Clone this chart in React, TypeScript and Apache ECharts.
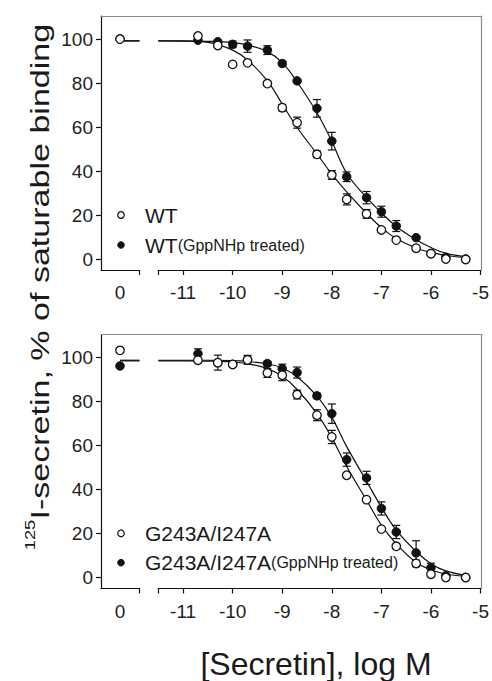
import React, { useEffect, useRef } from 'react';
import * as echarts from 'echarts';

// ---- data ----
const doses = [-10.7, -10.3, -10, -9.7, -9.3, -9, -8.7, -8.3, -8, -7.7, -7.3, -7, -6.7, -6.3, -6, -5.7, -5.3];
const curveX = [-11.5, -11, -10.5, -10, -9.7, -9.3, -9, -8.7, -8.3, -8, -7.7, -7.3, -7, -6.7, -6.3, -6, -5.7, -5.25];

// top panel: WT
const wtZero = 100;
const wtGppZero = 100;
const wtValues = [101.4, 97.1, 88.5, 89.2, 79.8, 68.8, 62.0, 47.6, 38.2, 27.1, 20.5, 13.2, 8.6, 4.9, 2.4, 0.0, -0.2];
const wtErr = [0, 0, 0, 0, 0, 1.5, 2.5, 1.5, 2, 2.5, 2, 1, 0, 0, 0, 0, 0];
const wtGppValues = [99.5, 98.8, 97.6, 96.8, 95.0, 88.9, 81.0, 68.5, 53.6, 37.4, 27.9, 21.5, 15.0, 9.7, 2.5, 0.8, 0.0];
const wtGppErr = [0, 0, 1.5, 2.8, 2, 1, 0.5, 4, 4, 2.2, 2.8, 2.5, 2.5, 0.5, 0, 0, 0];
const wtCurve = [99.2, 99.1, 98.5, 95.0, 90.5, 81.0, 70.5, 59.8, 47.8, 38.6, 30.5, 20.8, 14.3, 9.3, 5.0, 3.0, 1.6, 0.6];
const wtGppCurve = [99.2, 99.2, 99.0, 98.4, 97.3, 94.3, 89.3, 80.5, 66.5, 53.5, 39.0, 28.0, 21.0, 14.8, 8.8, 5.2, 2.6, 1.0];

// bottom panel: G243A/I247A
const g2Zero = 103.3;
const g2GppZero = 96.2;
const g2Values = [98.8, 97.7, 96.9, 99.0, 93.0, 92.0, 83.2, 73.8, 63.9, 46.5, 35.4, 22.0, 14.2, 6.4, 1.5, 0.0, 0.0];
const g2Err = [0, 3.4, 0, 2, 2, 2.5, 2, 2.5, 3, 0, 0, 0, 0, 1.5, 0, 0, 0];
const g2GppValues = [101.8, 97.7, 96.9, 99.0, 97.3, 95.0, 93.2, 82.6, 74.5, 53.6, 45.3, 31.4, 20.7, 11.2, 4.5, 0.8, 0.0];
const g2GppErr = [2.2, 0, 0, 0, 1, 2, 2.5, 1.2, 4.4, 3, 3, 3, 3, 5.5, 2, 0, 0];
const g2Curve = [98.5, 98.5, 98.4, 98.0, 97.2, 95.0, 91.5, 85.5, 74.5, 63.5, 50.5, 35.2, 23.8, 15.3, 6.8, 3.5, 1.6, 0.4];
const g2GppCurve = [98.8, 98.8, 98.8, 98.6, 98.2, 97.2, 95.3, 91.3, 82.5, 72.8, 59.5, 43.8, 32.0, 21.5, 11.8, 6.3, 3.0, 0.8];

const yTicks = [0, 20, 40, 60, 80, 100];
const xTicks = [-11, -10, -9, -8, -7, -6, -5];
const zeroTick = [0];

const FONT = '"Liberation Sans", Arial, Helvetica, sans-serif';
const INK = '#1a1a1a';

function buildPanel(p: number, top: number, cfg: any) {
  const gi = p * 3;
  const yi = p * 4;
  const H = 254;
  const grids = [
    { left: 101, top, width: 380.7, height: H },
    { left: 101, top, width: 38.5, height: H },
    { left: 158.3, top, width: 323.4, height: H },
  ];
  const yRange = { min: -5, max: 110.5 };
  const blackLine = { show: true, onZero: false, lineStyle: { color: '#111', width: 1.2 } };
  const grayLine = { show: true, onZero: false, lineStyle: { color: '#8a8a8a', width: 1.2 } };
  const xAxes = [
    {
      show: true, gridIndex: gi, type: 'value', position: 'top', min: 0, max: 1,
      axisLine: grayLine,
      axisTick: { show: false }, axisLabel: { show: false }, splitLine: { show: false },
    },
    {
      show: true, gridIndex: gi + 1, type: 'value', position: 'bottom', min: -0.382, max: 0.392,
      axisLine: blackLine,
      axisTick: { show: true, length: 5, lineStyle: { color: '#111', width: 1.2 }, customValues: [0.392] },
      axisLabel: {
        show: true, fontSize: 19, color: '#222', fontFamily: FONT, margin: 13,
        customValues: zeroTick,
        formatter: (v: number) => (Math.abs(v) < 1e-9 ? '0' : ''),
      },
      splitLine: { show: false },
    },
    {
      show: true, gridIndex: gi + 2, type: 'value', position: 'bottom', min: -11.5, max: -5,
      axisLine: blackLine,
      axisTick: { show: true, length: 5, lineStyle: { color: '#111', width: 1.2 }, customValues: [-11.5, ...xTicks] },
      axisLabel: {
        show: true, fontSize: 19, color: '#222', fontFamily: FONT, margin: 13,
        customValues: xTicks,
        formatter: (v: number) => (Number.isInteger(v) ? String(v) : ''),
      },
      splitLine: { show: false },
    },
  ];
  const yAxes = [
    {
      show: true, gridIndex: gi, type: 'value', position: 'left', ...yRange,
      axisLine: blackLine,
      axisTick: { show: true, length: 5, lineStyle: { color: '#111', width: 1.2 }, customValues: yTicks },
      axisLabel: {
        show: true, fontSize: 19, color: '#222', fontFamily: FONT, margin: 8,
        customValues: yTicks,
        formatter: (v: number) => (yTicks.includes(v) ? String(v) : ''),
      },
      splitLine: { show: false },
    },
    {
      show: true, gridIndex: gi, type: 'value', position: 'right', ...yRange,
      axisLine: grayLine,
      axisTick: { show: false }, axisLabel: { show: false }, splitLine: { show: false },
    },
    { gridIndex: gi + 1, type: 'value', ...yRange, show: false },
    { gridIndex: gi + 2, type: 'value', ...yRange, show: false },
  ];

  const lineBase = {
    type: 'line', showSymbol: false, symbol: 'none', silent: true,
    lineStyle: { color: '#111', width: 1.2 }, z: 2,
  };
  const errData = (vals: number[], errs: number[]) =>
    doses.map((d, i) => [d, vals[i] - errs[i], vals[i] + errs[i]]).filter((_, i) => errs[i] > 0);

  const errSeries = (vals: number[], errs: number[]) => ({
    type: 'custom', xAxisIndex: gi + 2, yAxisIndex: yi + 3, silent: true, z: 3,
    data: errData(vals, errs),
    encode: { x: 0, y: [1, 2] },
    renderItem: (params: any, api: any) => {
      const x = api.value(0);
      const lo = api.coord([x, api.value(1)]);
      const hi = api.coord([x, api.value(2)]);
      const w = 4;
      const st = { stroke: '#111', lineWidth: 1.2 };
      return {
        type: 'group',
        children: [
          { type: 'line', shape: { x1: lo[0], y1: lo[1], x2: hi[0], y2: hi[1] }, style: st },
          { type: 'line', shape: { x1: hi[0] - w, y1: hi[1], x2: hi[0] + w, y2: hi[1] }, style: st },
          { type: 'line', shape: { x1: lo[0] - w, y1: lo[1], x2: lo[0] + w, y2: lo[1] }, style: st },
        ],
      };
    },
  });

  const openStyle = { color: '#ffffff', borderColor: '#111', borderWidth: 1.3, opacity: 1 };
  const filledStyle = { color: '#111', borderColor: '#111', borderWidth: 1, opacity: 1 };

  const series = [
    { ...lineBase, xAxisIndex: gi + 1, yAxisIndex: yi + 2, data: [[0, cfg.curve[0]], [0.392, cfg.curve[0]]] },
    { ...lineBase, xAxisIndex: gi + 1, yAxisIndex: yi + 2, data: [[0, cfg.gppCurve[0]], [0.392, cfg.gppCurve[0]]] },
    { ...lineBase, xAxisIndex: gi + 2, yAxisIndex: yi + 3, smooth: 0.4, data: curveX.map((x, i) => [x, cfg.curve[i]]) },
    { ...lineBase, xAxisIndex: gi + 2, yAxisIndex: yi + 3, smooth: 0.4, data: curveX.map((x, i) => [x, cfg.gppCurve[i]]) },
    errSeries(cfg.gppValues, cfg.gppErr),
    errSeries(cfg.values, cfg.err),
    {
      type: 'scatter', xAxisIndex: gi + 2, yAxisIndex: yi + 3, symbol: 'circle', symbolSize: 8.5, silent: true, z: 4,
      itemStyle: filledStyle, data: doses.map((d, i) => [d, cfg.gppValues[i]]),
    },
    {
      type: 'scatter', xAxisIndex: gi + 2, yAxisIndex: yi + 3, symbol: 'circle', symbolSize: 8.5, silent: true, z: 5,
      itemStyle: openStyle, data: doses.map((d, i) => [d, cfg.values[i]]),
    },
    {
      type: 'scatter', xAxisIndex: gi + 1, yAxisIndex: yi + 2, symbol: 'circle', symbolSize: 8.5, silent: true, z: 4,
      itemStyle: filledStyle, data: [[0, cfg.gppZero]],
    },
    {
      type: 'scatter', xAxisIndex: gi + 1, yAxisIndex: yi + 2, symbol: 'circle', symbolSize: 8.5, silent: true, z: 5,
      itemStyle: openStyle, data: [[0, cfg.zero]],
    },
  ];
  return { grids, xAxes, yAxes, series };
}

function legendGraphic(y1: number, y2: number, name: string) {
  return [
    { type: 'circle', shape: { cx: 121, cy: y1, r: 3.3 }, style: { fill: '#fff', stroke: '#111', lineWidth: 1.2 } },
    { type: 'circle', shape: { cx: 121, cy: y2, r: 3.3 }, style: { fill: '#111', stroke: '#111', lineWidth: 1 } },
    {
      type: 'text', x: 145, y: y1,
      style: { text: name, fontSize: 21, fontFamily: FONT, fill: INK, verticalAlign: 'middle', align: 'left' },
    },
    {
      type: 'text', x: 145, y: y2,
      style: {
        text: `{a|${name}}{b|(GppNHp treated)}`, verticalAlign: 'middle', align: 'left',
        rich: {
          a: { fontSize: 21, fontFamily: FONT, fill: INK, verticalAlign: 'middle', lineHeight: 24 },
          b: { fontSize: 16, fontFamily: FONT, fill: INK, verticalAlign: 'middle', lineHeight: 24 },
        },
      },
    },
  ];
}

function buildOption() {
  const top = buildPanel(0, 16, {
    zero: wtZero, gppZero: wtGppZero, values: wtValues, err: wtErr, gppValues: wtGppValues, gppErr: wtGppErr,
    curve: wtCurve, gppCurve: wtGppCurve,
  });
  const bottom = buildPanel(1, 334.5, {
    zero: g2Zero, gppZero: g2GppZero, values: g2Values, err: g2Err, gppValues: g2GppValues, gppErr: g2GppErr,
    curve: g2Curve, gppCurve: g2GppCurve,
  });
  return {
    animation: false,
    backgroundColor: '#fff',
    grid: [...top.grids, ...bottom.grids],
    xAxis: [...top.xAxes, ...bottom.xAxes],
    yAxis: [...top.yAxes, ...bottom.yAxes],
    series: [...top.series, ...bottom.series],
    graphic: [
      ...legendGraphic(215, 245, 'WT'),
      ...legendGraphic(533.3, 562.7, 'G243A/I247A'),
      {
        type: 'text', x: 38, y: 287, rotation: Math.PI / 2, scaleX: 1.31, scaleY: 1,
        style: {
          text: '{s|125}{m|I-secretin, % of saturable binding}', align: 'center', verticalAlign: 'middle',
          rich: {
            s: { fontSize: 14, fontFamily: FONT, fill: INK, verticalAlign: 'top', lineHeight: 30 },
            m: { fontSize: 26, fontFamily: FONT, fill: INK, verticalAlign: 'bottom', lineHeight: 30 },
          },
        },
      },
      {
        type: 'text', x: 316, y: 664,
        style: { text: '[Secretin], log M', fontSize: 32, fontFamily: FONT, fill: INK, align: 'center', verticalAlign: 'middle' },
      },
    ],
  };
}

export default function App() {
  const ref = useRef<HTMLDivElement>(null);
  useEffect(() => {
    if (!ref.current) return;
    const chart = echarts.init(ref.current, null, { renderer: 'svg' });
    chart.setOption(buildOption() as any);
    return () => chart.dispose();
  }, []);
  return (
    <div
      ref={ref}
      style={{ position: 'absolute', left: 0, top: 0, width: 492, height: 681, background: '#fff' }}
    />
  );
}
